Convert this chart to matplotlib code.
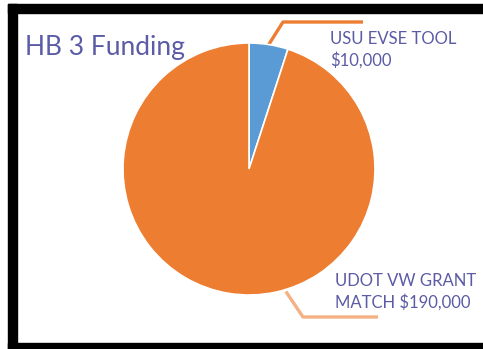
import numpy as np
import matplotlib
matplotlib.use("Agg")
import matplotlib.pyplot as plt
from matplotlib.patches import Rectangle

# data
labels = ["USU EVSE TOOL\n$10,000", "UDOT VW GRANT\nMATCH $190,000"]
values = [10000, 190000]
colors = ["#5B9BD5", "#ED7D31"]
title = "HB 3 Funding"

W, H = 483, 349
text_col = "#5B5BA6"
plt.rcParams["font.family"] = ["Lato", "DejaVu Sans"]

fig = plt.figure(figsize=(W / 100, H / 100), dpi=100)
ax = fig.add_axes([0, 0, 1, 1])
ax.set_xlim(0, W)
ax.set_ylim(H, 0)  # pixel-like coords, y down
ax.axis("off")

cx, cy, r = 249, 169, 126
# y axis is flipped, so counterclock in data = clockwise on screen
ax.pie(values, colors=colors, startangle=-90, counterclock=True,
       radius=r, center=(cx, cy),
       wedgeprops=dict(edgecolor="white", linewidth=1.2))
ax.set_xlim(0, W)
ax.set_ylim(H, 0)


def edge_pt(deg):
    # screen angle, measured counterclockwise from +x (up is positive)
    a = np.deg2rad(deg)
    return cx + r * np.cos(a), cy - r * np.sin(a)


# leader lines
x0, y0 = edge_pt(81)
ax.plot([x0, 283, 363], [y0, 22, 22], color="#ED7D31", lw=2.4,
        solid_capstyle="butt", zorder=0)
x1, y1 = edge_pt(-73)
ax.plot([x1, 303, 378], [y1 + 2, 317, 317], color="#F4B183", lw=2.4,
        solid_capstyle="butt", zorder=0)

ax.text(330, 31, labels[0], color=text_col, fontsize=12, va="top",
        ha="left", linespacing=1.35)
ax.text(335, 273, labels[1], color=text_col, fontsize=12, va="top",
        ha="left", linespacing=1.35)
ax.text(25, 48, title, color=text_col, fontsize=19, va="center", ha="left")

# black frame (left, top, bottom)
for (x, y, w, h) in [(8, 4, 9, 345), (8, 4, W - 8, 9), (8, 343, W - 8, 6)]:
    fig.patches.append(Rectangle((x / W, 1 - (y + h) / H), w / W, h / H,
                                 transform=fig.transFigure, color="black"))

fig.savefig("out.png", dpi=100)
